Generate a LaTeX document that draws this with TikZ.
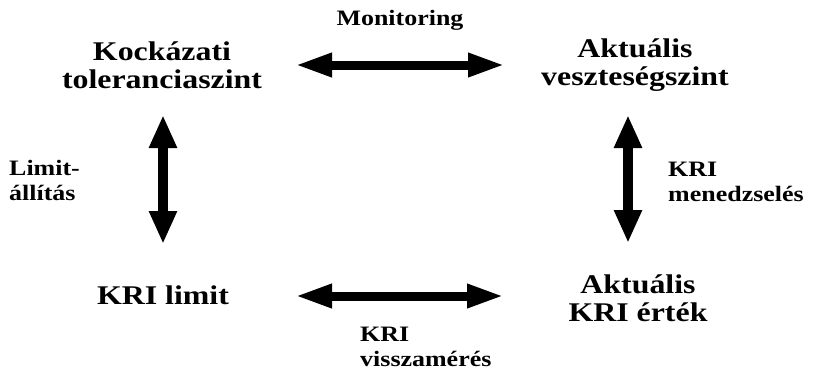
\documentclass[tikz,border=0pt]{standalone}
\usepackage{fontspec}
\setmainfont{Liberation Serif}[FakeStretch=1.18]
\usetikzlibrary{arrows.meta}

\begin{document}
\begin{tikzpicture}[x=1pt, y=1pt,
	level/.style={align=center, inner sep=0pt, font=\fontsize{27}{28.5}\selectfont\bfseries},
	tag/.style={align=left, inner sep=0pt, font=\fontsize{22}{25}\selectfont\bfseries},
	harr/.style={line width=9pt, {Triangle[length=37pt,width=22pt]}-{Triangle[length=37pt,width=22pt]}},
	varr/.style={line width=10pt, {Triangle[length=33pt,width=26pt]}-{Triangle[length=33pt,width=26pt]}}]
	\useasboundingbox (0,0) rectangle (818,-373);
	\node [level] (tol) at (162,-65) {Kockázati\\toleranciaszint};
	\node [level] (loss) at (635,-65) {Aktuális\\veszteségszint};
	\node [level] (limit) at (163,-295) {KRI limit};
	\node [level] (value) at (638,-298) {Aktuális\\KRI érték};
	\node [tag] (mon) at (400,-20) {Monitoring};
	\node [tag, anchor=west] (set) at (9,-180) {Limit-\\állítás};
	\node [tag, anchor=west] (mgmt) at (668,-182) {KRI\\menedzselés};
	\node [tag, anchor=west] (back) at (360,-347) {KRI\\visszamérés};
	\draw [harr, shorten <=133pt, shorten >=130pt] (tol.center) -- (loss.center);
	\draw [harr, shorten <=132pt, shorten >=134pt] ([yshift=-1pt]limit.center) -- ([yshift=2pt]value.center);
	\draw [varr, shorten <=50pt, shorten >=51pt] ([xshift=1pt]tol.center) -- (limit.center);
	\draw [varr, shorten <=50pt, shorten >=55pt] ([xshift=-7pt]loss.center) -- ([xshift=-10pt]value.center);
\end{tikzpicture}
\end{document}
